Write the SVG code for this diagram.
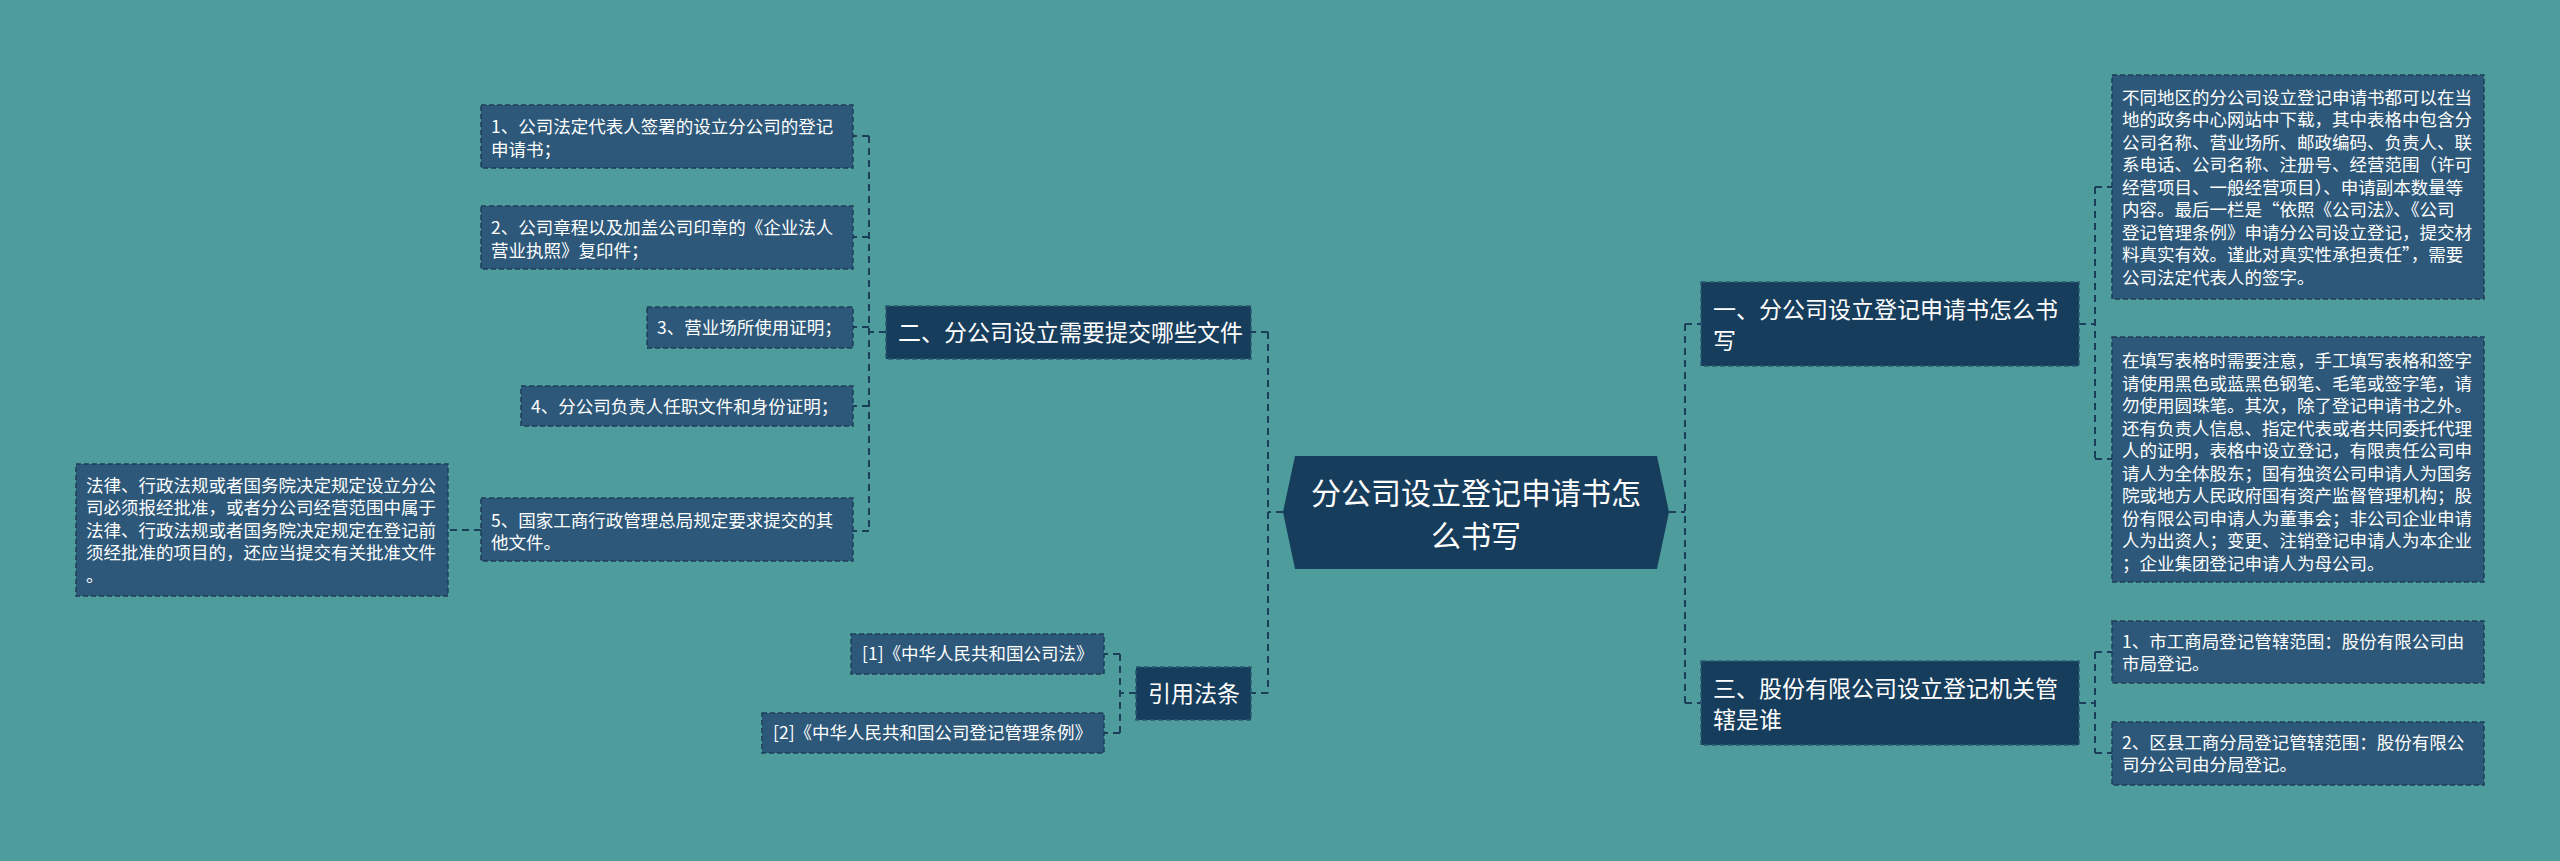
<svg xmlns="http://www.w3.org/2000/svg" width="2560" height="861" viewBox="0 0 2560 861">
<style>
.bg{fill:#4e9c9c}
.main{fill:#173d5c;stroke:#2a5a72;stroke-width:1.5;stroke-dasharray:5 3}
.leaf{fill:#2d5879;stroke:#1c3e58;stroke-width:1.5;stroke-dasharray:5 3}
.root{fill:#173d5c}
.con{fill:none;stroke:#1b3e5a;stroke-width:2;stroke-dasharray:7 5}
text{font-family:"Noto Sans CJK SC","Noto Sans",sans-serif;fill:#ffffff}
.t1{font-size:30px}
.t2{font-size:23px}
.t3{font-size:17.5px}
</style>
<rect class="bg" x="0" y="0" width="2560" height="861"/>
<g id="connectors">
<path class="con" d="M1283,512H1268M1268,332V693M1268,332H1251M1268,693H1251"/>
<path class="con" d="M1669,512H1685M1685,324V703M1685,324H1701M1685,703H1701"/>
<path class="con" d="M886,332H869M869,136V531M869,136H853M869,237H853M869,327H853M869,406H853M869,531H853"/>
<path class="con" d="M481,530H448"/>
<path class="con" d="M1136,693H1120M1120,654V733M1120,654H1104M1120,733H1104"/>
<path class="con" d="M2079,324H2095M2095,187V459M2095,187H2112M2095,459H2112"/>
<path class="con" d="M2079,703H2095M2095,652V753M2095,652H2112M2095,753H2112"/>
</g>
<g id="root">
<polygon class="root" points="1283,512 1295,456 1657,456 1669,512 1657,569 1295,569"/>
<text class="t1" x="1476" y="504" text-anchor="middle">分公司设立登记申请书怎</text>
<text class="t1" x="1476" y="547" text-anchor="middle">么书写</text>
</g>
<g id="n1">
<rect class="main" x="1701" y="282" width="378" height="84"/>
<text class="t2" x="1713" y="318">一、分公司设立登记申请书怎么书</text>
<text class="t2" x="1713" y="349">写</text>
</g>
<g id="n1a">
<rect class="leaf" x="2112" y="75" width="372" height="224"/>
<text class="t3" x="2122" y="103.5">不同地区的分公司设立登记申请书都可以在当</text>
<text class="t3" x="2122" y="126">地的政务中心网站中下载，其中表格中包含分</text>
<text class="t3" x="2122" y="148.5">公司名称、营业场所、邮政编码、负责人、联</text>
<text class="t3" x="2122" y="171">系电话、公司名称、注册号、经营范围（许可</text>
<text class="t3" x="2122" y="193.5">经营项目、一般经营项目）、申请副本数量等</text>
<text class="t3" x="2122" y="216">内容。最后一栏是“依照《公司法》、《公司</text>
<text class="t3" x="2122" y="238.5">登记管理条例》申请分公司设立登记，提交材</text>
<text class="t3" x="2122" y="261">料真实有效。谨此对真实性承担责任”，需要</text>
<text class="t3" x="2122" y="283.5">公司法定代表人的签字。</text>
</g>
<g id="n1b">
<rect class="leaf" x="2112" y="337" width="372" height="245"/>
<text class="t3" x="2122" y="367">在填写表格时需要注意，手工填写表格和签字</text>
<text class="t3" x="2122" y="389.5">请使用黑色或蓝黑色钢笔、毛笔或签字笔，请</text>
<text class="t3" x="2122" y="412">勿使用圆珠笔。其次，除了登记申请书之外。</text>
<text class="t3" x="2122" y="434.5">还有负责人信息、指定代表或者共同委托代理</text>
<text class="t3" x="2122" y="457">人的证明，表格中设立登记，有限责任公司申</text>
<text class="t3" x="2122" y="479.5">请人为全体股东；国有独资公司申请人为国务</text>
<text class="t3" x="2122" y="502">院或地方人民政府国有资产监督管理机构；股</text>
<text class="t3" x="2122" y="524.5">份有限公司申请人为董事会；非公司企业申请</text>
<text class="t3" x="2122" y="547">人为出资人；变更、注销登记申请人为本企业</text>
<text class="t3" x="2122" y="569.5">；企业集团登记申请人为母公司。</text>
</g>
<g id="n3">
<rect class="main" x="1701" y="661" width="378" height="84"/>
<text class="t2" x="1713" y="697">三、股份有限公司设立登记机关管</text>
<text class="t2" x="1713" y="728">辖是谁</text>
</g>
<g id="n3a">
<rect class="leaf" x="2112" y="621" width="372" height="62"/>
<text class="t3" x="2122" y="648">1、市工商局登记管辖范围：股份有限公司由</text>
<text class="t3" x="2122" y="670">市局登记。</text>
</g>
<g id="n3b">
<rect class="leaf" x="2112" y="722" width="372" height="63"/>
<text class="t3" x="2122" y="749">2、区县工商分局登记管辖范围：股份有限公</text>
<text class="t3" x="2122" y="771">司分公司由分局登记。</text>
</g>
<g id="n2">
<rect class="main" x="886" y="306" width="365" height="53"/>
<text class="t2" x="898" y="341">二、分公司设立需要提交哪些文件</text>
</g>
<g id="n2a">
<rect class="leaf" x="481" y="105" width="372" height="63"/>
<text class="t3" x="491" y="133">1、公司法定代表人签署的设立分公司的登记</text>
<text class="t3" x="491" y="155.5">申请书；</text>
</g>
<g id="n2b">
<rect class="leaf" x="481" y="206" width="372" height="63"/>
<text class="t3" x="491" y="234">2、公司章程以及加盖公司印章的《企业法人</text>
<text class="t3" x="491" y="256.5">营业执照》复印件；</text>
</g>
<g id="n2c">
<rect class="leaf" x="647" y="307" width="206" height="41"/>
<text class="t3" x="657" y="333.5">3、营业场所使用证明；</text>
</g>
<g id="n2d">
<rect class="leaf" x="521" y="386" width="332" height="40"/>
<text class="t3" x="531" y="412.5">4、分公司负责人任职文件和身份证明；</text>
</g>
<g id="n2e">
<rect class="leaf" x="481" y="498" width="372" height="63"/>
<text class="t3" x="491" y="526.5">5、国家工商行政管理总局规定要求提交的其</text>
<text class="t3" x="491" y="549">他文件。</text>
</g>
<g id="n2e1">
<rect class="leaf" x="76" y="464" width="372" height="132"/>
<text class="t3" x="86" y="491.5">法律、行政法规或者国务院决定规定设立分公</text>
<text class="t3" x="86" y="514">司必须报经批准，或者分公司经营范围中属于</text>
<text class="t3" x="86" y="536.5">法律、行政法规或者国务院决定规定在登记前</text>
<text class="t3" x="86" y="559">须经批准的项目的，还应当提交有关批准文件</text>
<text class="t3" x="86" y="581.5">。</text>
</g>
<g id="n4">
<rect class="main" x="1136" y="667" width="115" height="53"/>
<text class="t2" x="1148" y="702">引用法条</text>
</g>
<g id="n4a">
<rect class="leaf" x="851" y="634" width="253" height="40"/>
<text class="t3" x="862" y="660">[1]《中华人民共和国公司法》</text>
</g>
<g id="n4b">
<rect class="leaf" x="762" y="713" width="342" height="40"/>
<text class="t3" x="773" y="739">[2]《中华人民共和国公司登记管理条例》</text>
</g>
</svg>
